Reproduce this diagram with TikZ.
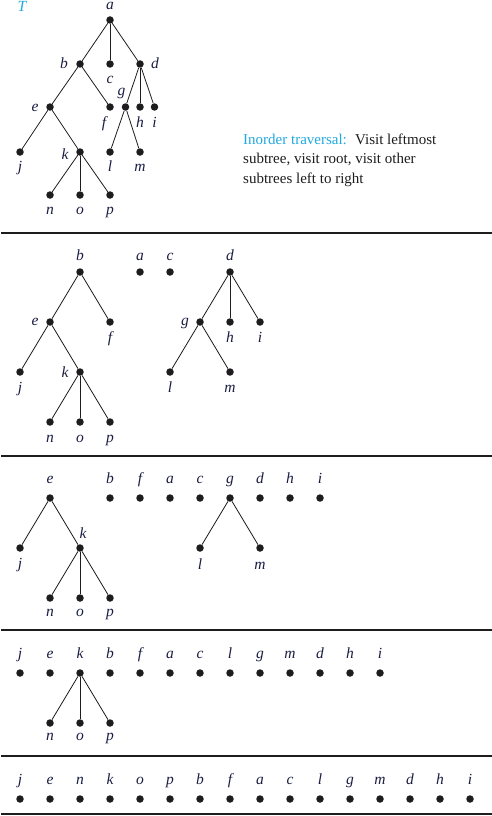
\documentclass[tikz,border=0pt]{standalone}
\usepackage{fontspec}
\setmainfont{Liberation Serif}
\definecolor{tcyan}{RGB}{32,168,224}
\definecolor{lblc}{RGB}{26,28,66}
\definecolor{ink}{RGB}{30,28,30}
\tikzset{
 dot/.style={circle,fill=ink,inner sep=0pt,minimum size=7.5pt},
 lbl/.style={anchor=base,inner sep=0pt,text=lblc,font=\fontsize{15.5}{15.5}\selectfont\itshape},
 edge/.style={draw=ink,line width=0.8pt},
 rulebar/.style={draw=ink,line width=1.2pt},
 body/.style={anchor=base west,inner sep=0pt,text=ink,font=\fontsize{15}{19.5}\selectfont},
}
\newcommand\V[6]{\node[dot] (#1) at (#2,#3) {}; \node[lbl] (#1t) at ([shift={(#5,#6)}]#1.center) {#4};}
\begin{document}
\begin{tikzpicture}[x=1pt,y=-1pt]
\useasboundingbox (0,0) rectangle (492,816);
% ---------- panel 1
\node[lbl,text=tcyan] (T) at (22,12) {T};
\node[dot] (Aa) at (110,20) {};
\node[lbl,text height=7pt] (Aat) at ([shift={(0,-10)}]Aa.center) {a};
\V{Ab}{80}{64}{b}{-16}{5}
\V{Ac}{110}{64}{c}{0}{19}
\V{Ad}{140}{64}{d}{15}{5}
\V{Ae}{50}{107}{e}{-15}{4}
\V{Af}{110}{107}{f}{-6}{20}
\V{Ag}{125.5}{107}{g}{-4}{-12}
\V{Ah}{140}{107}{h}{0}{20}
\V{Ai}{154.5}{107}{i}{0}{20}
\V{Aj}{20}{152}{j}{0}{19}
\V{Ak}{80}{152}{k}{-15}{7}
\V{Al}{110}{152}{l}{0}{19}
\V{Am}{140}{152}{m}{0}{19}
\V{An}{50}{195}{n}{0}{19}
\V{Ao}{80}{195}{o}{0}{19}
\V{Ap}{110}{195}{p}{0}{19}
\foreach \u/\v in {Aa/Ab,Aa/Ac,Aa/Ad,Ab/Ae,Ab/Af,Ad/Ag,Ad/Ah,Ad/Ai,Ae/Aj,Ae/Ak,Ag/Al,Ag/Am,Ak/An,Ak/Ao,Ak/Ap}
  \draw[edge] (\u) -- (\v);
\node[body] (t1) at (243,144) {\textcolor{tcyan}{Inorder traversal:}\hskip0.55em Visit leftmost};
\node[body] (t2) at (243,163.5) {subtree, visit root, visit other};
\node[body] (t3) at (243,183) {subtrees left to right};
\draw[rulebar] (1,233) -- (492,233);
% ---------- panel 2
\V{Bb}{80}{272}{b}{0}{-12}
\V{Ba}{140}{272}{a}{0}{-12}
\V{Bc}{170}{272}{c}{0}{-12}
\V{Bd}{230}{272}{d}{0}{-12}
\V{Be}{50}{322}{e}{-15}{3}
\V{Bf}{110}{322}{f}{0}{20}
\V{Bg}{200}{322}{g}{-15}{3}
\V{Bh}{230}{322}{h}{0}{20}
\V{Bi}{260}{322}{i}{0}{20}
\V{Bj}{20}{372}{j}{0}{20}
\V{Bk}{80}{372}{k}{-15}{5}
\V{Bl}{170}{372}{l}{0}{20}
\V{Bm}{230}{372}{m}{0}{20}
\V{Bn}{50}{422}{n}{0}{20}
\V{Bo}{80}{422}{o}{0}{20}
\V{Bp}{110}{422}{p}{0}{20}
\foreach \u/\v in {Bb/Be,Bb/Bf,Be/Bj,Be/Bk,Bk/Bn,Bk/Bo,Bk/Bp,Bd/Bg,Bd/Bh,Bd/Bi,Bg/Bl,Bg/Bm}
  \draw[edge] (\u) -- (\v);
\draw[rulebar] (1,456) -- (492,456);
% ---------- panel 3
\V{Ce}{50}{498}{e}{0}{-15}
\V{Cb}{110}{498}{b}{0}{-15}
\V{Cf}{140}{498}{f}{0}{-15}
\V{Ca}{170}{498}{a}{0}{-15}
\V{Cc}{200}{498}{c}{0}{-15}
\V{Cg}{230}{498}{g}{0}{-15}
\V{Cd}{260}{498}{d}{0}{-15}
\V{Ch}{290}{498}{h}{0}{-15}
\V{Ci}{320}{498}{i}{0}{-15}
\V{Cj}{20}{548}{j}{0}{20}
\V{Ck}{80}{548}{k}{3}{-10}
\V{Cl}{200}{548}{l}{0}{21}
\V{Cm}{260}{548}{m}{0}{21}
\V{Cn}{50}{598}{n}{0}{18}
\V{Co}{80}{598}{o}{0}{18}
\V{Cp}{110}{598}{p}{0}{18}
\foreach \u/\v in {Ce/Cj,Ce/Ck,Ck/Cn,Ck/Co,Ck/Cp,Cg/Cl,Cg/Cm}
  \draw[edge] (\u) -- (\v);
\draw[rulebar] (1,630) -- (492,630);
% ---------- panel 4
\foreach \n [count=\i] in {j,e,k,b,f,a,c,l,g,m,d,h,i}
  {\V{D\n}{\i*30-10}{673}{\n}{0}{-15}}
\V{Dn}{50}{723}{n}{0}{17}
\V{Do}{80}{723}{o}{0}{17}
\V{Dp}{110}{723}{p}{0}{17}
\foreach \v in {Dn,Do,Dp}
  \draw[edge] (Dk) -- (\v);
\draw[rulebar] (1,756) -- (492,756);
% ---------- panel 5
\foreach \n [count=\i] in {j,e,n,k,o,p,b,f,a,c,l,g,m,d,h,i}
  {\V{E\n}{\i*30-10}{799}{\n}{0}{-15}}
\draw[rulebar] (1,814) -- (492,814);
\end{tikzpicture}
\end{document}
